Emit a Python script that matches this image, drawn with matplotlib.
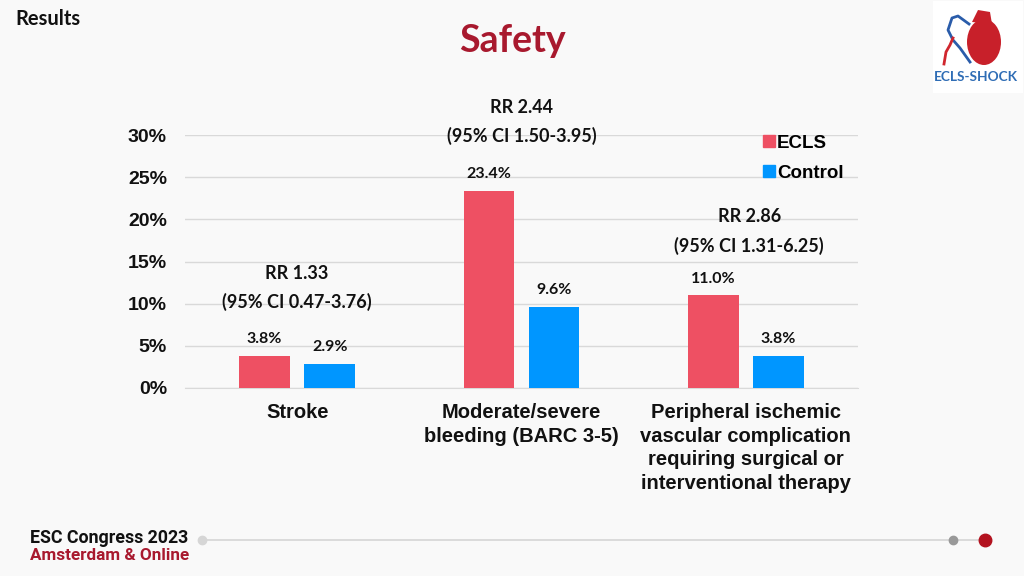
import matplotlib
matplotlib.use("Agg")
import matplotlib.pyplot as plt
from matplotlib.lines import Line2D
from matplotlib.patches import Ellipse, Rectangle, Polygon
import numpy as np

categories = ["Stroke", "Moderate/severe\nbleeding (BARC 3-5)",
              "Peripheral ischemic\nvascular complication\nrequiring surgical or\ninterventional therapy"]
ecls = [3.8, 23.4, 11.0]
control = [2.9, 9.6, 3.8]
rr_lines = ["RR 1.33", "RR 2.44", "RR 2.86"]
ci_lines = ["(95% CI 0.47-3.76)", "(95% CI 1.50-3.95)", "(95% CI 1.31-6.25)"]
rr_heights = [13.6, 33.3, 20.3]   # vertical position of annotation (in % units)
yticks = [0, 5, 10, 15, 20, 25, 30]
series_names = ["ECLS", "Control"]

C_ECLS = "#EE5063"
C_CTRL = "#0096FF"
BG = "#F9F9F9"
DARKRED = "#A8192E"

fig = plt.figure(figsize=(10.24, 5.76), dpi=100, facecolor=BG)
ax = fig.add_axes([185/1024, 1-388/576, (858-185)/1024, (388-135)/576], facecolor=BG)

x = np.arange(len(categories))
off = 0.145
w = 0.227
b1 = ax.bar(x - off, ecls, w, color=C_ECLS, zorder=3)
b2 = ax.bar(x + off, control, w, color=C_CTRL, zorder=3)

lblfont = dict(family=["Lato", "DejaVu Sans"], fontweight="bold", fontsize=11.5, color="#111111")
for bars, vals in ((b1, ecls), (b2, control)):
    for r, v in zip(bars, vals):
        ax.annotate(f"{v:.1f}%", (r.get_x() + r.get_width()/2, v), xytext=(0, 7),
                    textcoords="offset points", ha="center", va="bottom", **lblfont)

rrfont = dict(family=["Lato", "DejaVu Sans"], fontweight="bold", fontsize=13, color="#111111")
for i in range(len(categories)):
    xi = x[i] + (0.015 if i == 2 else 0)
    ax.text(xi, rr_heights[i], rr_lines[i], ha="center", va="center", clip_on=False, **rrfont)
    ax.text(xi, rr_heights[i] - 3.4, ci_lines[i], ha="center", va="center", clip_on=False, **rrfont)

ax.set_xlim(-0.5, 2.5)
ax.set_ylim(0, 30)
ax.set_yticks(yticks)
ax.set_yticklabels([f"{t}%" for t in yticks], family="Liberation Sans",
                   fontweight="bold", fontsize=14, color="#111111")
ax.yaxis.grid(True, color="#D9D9D9", linewidth=1, zorder=0)
ax.set_axisbelow(True)
ax.tick_params(axis="y", length=0, pad=13)
ax.tick_params(axis="x", length=0, pad=11)
ax.set_xticks(x)
ax.set_xticklabels(categories, family="Liberation Sans", fontweight="bold",
                   fontsize=14.5, color="#111111", linespacing=1.3)
for s in ["top", "right", "left"]:
    ax.spines[s].set_visible(False)
ax.spines["bottom"].set_color("#D9D9D9")

handles = [Line2D([], [], marker="s", linestyle="none", markersize=8, color=c)
           for c in (C_ECLS, C_CTRL)]
leg = fig.legend(handles, series_names, loc="upper left",
                 bbox_to_anchor=(743/1024, 1-118/576), frameon=False,
                 prop=dict(family="Liberation Sans", weight="bold", size=13.5),
                 handletextpad=-0.1, labelspacing=0.68, handlelength=1.0)

# Title and headers
fig.text(512/1024, 1-41/576, "Safety", ha="center", va="center",
         family=["Lato", "DejaVu Sans"], fontweight="bold", fontsize=27, color=DARKRED)
fig.text(15/1024, 1-19/576, "Results", ha="left", va="center",
         family=["Lato", "DejaVu Sans"], fontweight="bold", fontsize=14.5, color="#111111")

# Logo (approximation)
fig.patches.append(Rectangle((933/1024, 1-93/576), 90/1024, 92/576, transform=fig.transFigure,
                             facecolor="white", edgecolor="none"))
fig.patches.append(Ellipse((984/1024, 1-42/576), 34/1024, 46/576, transform=fig.transFigure,
                           facecolor="#C8202A", edgecolor="none"))
fig.patches.append(Polygon([(972/1024, 1-22/576), (978/1024, 1-10/576), (990/1024, 1-12/576),
                            (992/1024, 1-24/576)], closed=True, transform=fig.transFigure,
                           facecolor="#C8202A", edgecolor="none"))
fig.add_artist(Line2D([970/1024, 960/1024, 953/1024, 948/1024, 952/1024, 958/1024, 969/1024],
                      [1-62/576, 1-48/576, 1-40/576, 1-30/576, 1-18/576, 1-16/576, 1-24/576],
                      transform=fig.transFigure, color="#2A5CAA", linewidth=2))
fig.add_artist(Line2D([944/1024, 946/1024, 950/1024, 953/1024],
                      [1-64/576, 1-52/576, 1-45/576, 1-38/576],
                      transform=fig.transFigure, color="#D0262E", linewidth=2))
fig.text(976/1024, 1-77/576, "ECLS-SHOCK", ha="center", va="center",
         family=["Lato", "DejaVu Sans"], fontweight="bold", fontsize=9.8, color="#2F6DB5")

# Footer
fig.text(30/1024, 1-538/576, "ESC Congress 2023", ha="left", va="center",
         family=["Roboto", "DejaVu Sans"], fontweight="bold", fontsize=12.8, color="#111111")
fig.text(30/1024, 1-555/576, "Amsterdam & Online", ha="left", va="center",
         family=["Roboto", "DejaVu Sans"], fontweight="bold", fontsize=12.3, color=DARKRED)
fig.add_artist(Line2D([202/1024, 985/1024], [1-540/576, 1-540/576],
                      transform=fig.transFigure, color="#D6D6D6", linewidth=1.2))
fig.add_artist(Line2D([202/1024], [1-540/576], transform=fig.transFigure, marker="o",
                      markersize=6, color="#D6D6D6", linestyle="none"))
fig.add_artist(Line2D([953/1024], [1-540/576], transform=fig.transFigure, marker="o",
                      markersize=6, color="#999999", linestyle="none"))
fig.add_artist(Line2D([985/1024], [1-540/576], transform=fig.transFigure, marker="o",
                      markersize=9, color="#B3121F", linestyle="none"))

fig.savefig("out.png", dpi=100, facecolor=BG)
